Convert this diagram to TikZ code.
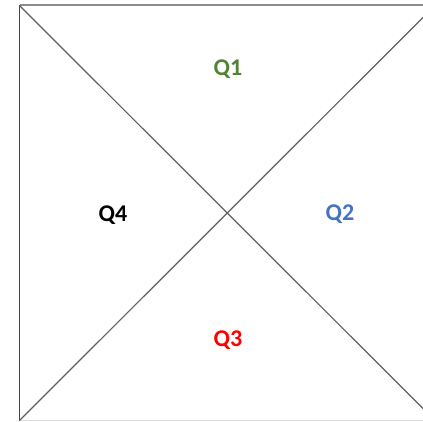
\documentclass[tikz,border=0pt]{standalone}
\usepackage{fontspec}
\setmainfont{Carlito}
\usepackage{tikz}
\definecolor{qgreen}{RGB}{84,130,53}
\definecolor{qblue}{RGB}{68,114,196}
\definecolor{qred}{RGB}{255,0,0}
\definecolor{edgetop}{RGB}{140,140,140}
\definecolor{edgeleft}{RGB}{70,70,70}
\definecolor{edgebot}{RGB}{222,222,222}
\definecolor{diag}{RGB}{95,95,95}
\tikzset{qlabel/.style={font=\fontsize{24}{26}\selectfont\bfseries,inner sep=0pt}}

\begin{document}
\begin{tikzpicture}[x=1pt,y=-1pt]
  \useasboundingbox (0,0) rectangle (423,422);
  \clip (0,0) rectangle (423,422);
  % corners of the square (right side runs past the page)
  \coordinate (tl) at (19.5,5.5);
  \coordinate (tr) at (435,5.5);
  \coordinate (bl) at (19.5,420.5);
  \coordinate (br) at (435,420.5);
  % frame
  \draw[edgebot,line width=1pt] (bl) -- (br);
  \draw[edgeleft,line width=1.2pt] (bl) -- (tl);
  \draw[edgetop,line width=2pt] (tl) -- (tr);
  % diagonals
  \draw[diag,line width=1.2pt] (tl) -- (br);
  \draw[diag,line width=1.2pt] (bl) -- (tr);
  % quadrant labels
  \node[qlabel,qgreen] (q1) at (228,69) {Q1};
  \node[qlabel,qblue] (q2) at (340,214) {Q2};
  \node[qlabel,qred] (q3) at (228,340) {Q3};
  \node[qlabel,black] (q4) at (113,215) {Q4};
\end{tikzpicture}
\end{document}
